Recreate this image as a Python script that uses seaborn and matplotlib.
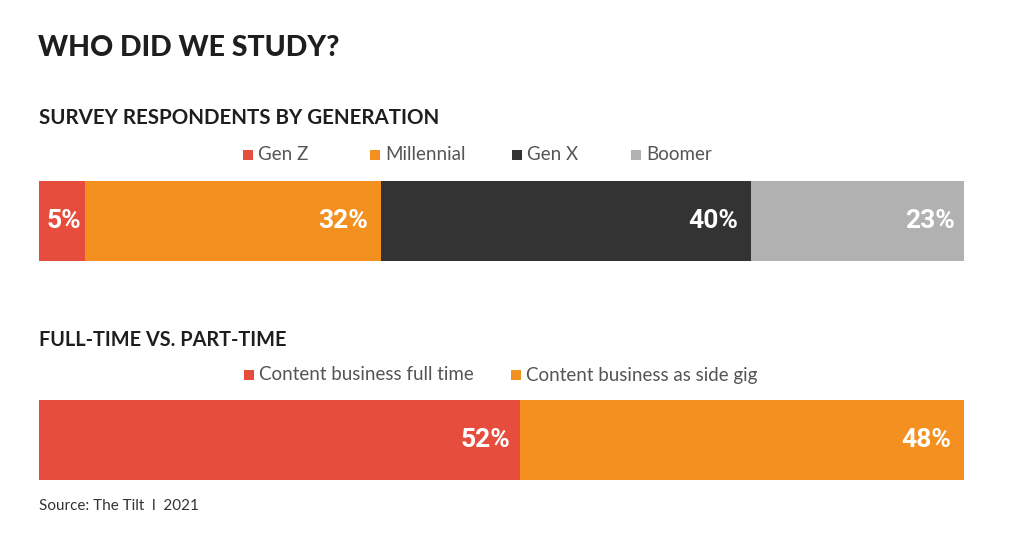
import matplotlib.pyplot as plt
from matplotlib.patches import Rectangle
import numpy as np
import pandas as pd
import seaborn as sns

# data
gen_labels = ["Gen Z", "Millennial", "Gen X", "Boomer"]
gen_values = [5, 32, 40, 23]
gen_colors = ["#E64D3D", "#F39020", "#333333", "#B1B1B1"]

time_labels = ["Content business full time", "Content business as side gig"]
time_values = [52, 48]
time_colors = ["#E64D3D", "#F39020"]

# gap (px) between each % label and the end of its segment
gen_pads = [4, 13, 13, 9]
time_pads = [10, 13]

sns.set_theme(style="white")
plt.rcParams["font.family"] = ["Lato", "DejaVu Sans"]

fig = plt.figure(figsize=(10.24, 5.6), dpi=100)
W, H = 1024, 560


def fx(px):
    return px / W


def fy(py):
    return 1 - py / H


def stacked_bar(ax, labels, values, colors, pads):
    cum = np.cumsum(values)
    df = pd.DataFrame({"label": labels, "value": values, "cum": cum})
    # draw the cumulative totals back to front so each segment shows
    for i in range(len(df) - 1, -1, -1):
        sns.barplot(x=[df["cum"][i]], y=["row"], orient="h", color=colors[i],
                    saturation=1, width=0.8, linewidth=0, errorbar=None, ax=ax)
    for i in range(len(df)):
        ax.annotate(f"{df['value'][i]}%", xy=(df["cum"][i], 0),
                    xytext=(-pads[i] * 0.72, 0), textcoords="offset points",
                    ha="right", va="center", color="white",
                    fontsize=19, fontweight="bold",
                    family=["Roboto", "DejaVu Sans"])
    ax.set_xlim(0, 100)
    ax.set_ylim(0.4, -0.4)
    ax.axis("off")


def legend_row(labels, colors, marker_x, y):
    for lab, col, mx in zip(labels, colors, marker_x):
        fig.patches.append(Rectangle((fx(mx), fy(y + 5)), fx(10), 10 / H,
                                     transform=fig.transFigure,
                                     facecolor=col, edgecolor="none"))
        fig.text(fx(mx + 15), fy(y), lab, ha="left", va="center",
                 fontsize=13.5, color="#555555")


ax1 = fig.add_axes([fx(39), fy(261), fx(925), 80 / H])
stacked_bar(ax1, gen_labels, gen_values, gen_colors, gen_pads)

ax2 = fig.add_axes([fx(39), fy(480), fx(925), 80 / H])
stacked_bar(ax2, time_labels, time_values, time_colors, time_pads)

fig.text(fx(38), fy(48), "WHO DID WE STUDY?", ha="left", va="center",
         fontsize=20.5, fontweight="black", color="#1E1E1E")
fig.text(fx(39), fy(118), "SURVEY RESPONDENTS BY GENERATION", ha="left",
         va="center", fontsize=14.8, fontweight="bold", color="#1E1E1E")
fig.text(fx(39), fy(340), "FULL-TIME VS. PART-TIME", ha="left",
         va="center", fontsize=14.3, fontweight="bold", color="#1E1E1E")

legend_row(gen_labels, gen_colors, [243, 370, 512, 631], 155)
legend_row(time_labels, time_colors, [244, 511], 375)

fig.text(fx(39), fy(506), "Source: The Tilt  l  2021", ha="left",
         va="center", fontsize=11, color="#333333")

fig.savefig("out.png", dpi=100)
